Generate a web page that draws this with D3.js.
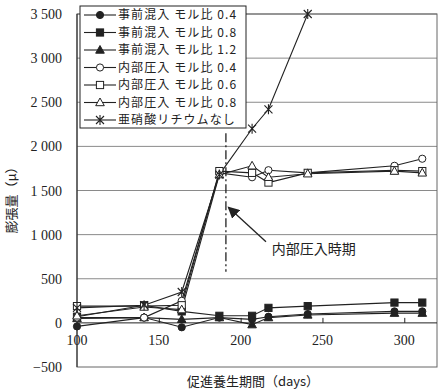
<!DOCTYPE html>
<html><head><meta charset="utf-8">
<script src="https://cdn.jsdelivr.net/npm/d3@7/dist/d3.min.js"></script>
<style>body{margin:0;background:#fff}svg{display:block}</style>
</head><body>
<svg id="c" width="440" height="392"></svg>
<script>
// ---- data ----
const days = [100, 141, 164, 187, 207, 217, 241, 294, 311];
const seriesNames = ["事前混入 モル比 0.4","事前混入 モル比 0.8","事前混入 モル比 1.2","内部圧入 モル比 0.4","内部圧入 モル比 0.6","内部圧入 モル比 0.8","亜硝酸リチウムなし"];
const pre04 = [-40, 60, -50, 60, 40, 70, 100, 130, 130];
const pre08 = [70, 200, 130, 80, 80, 170, 190, 230, 230];
const pre12 = [50, 60, 40, 60, -20, 60, 90, 110, 110];
const int04 = [60, 60, 250, 1700, 1650, 1730, 1700, 1780, 1860];
const int06 = [190, 190, 200, 1720, 1700, 1590, 1700, 1730, 1720];
const int08 = [80, 180, 150, 1680, 1780, 1650, 1690, 1720, 1700];
const noneDays = [100, 141, 164, 187, 207, 217, 241];
const none = [170, 200, 350, 1680, 2200, 2420, 3500];
const xTicks = [100, 150, 200, 250, 300];
const yTicks = [-500, 0, 500, 1000, 1500, 2000, 2500, 3000, 3500];
const injectDay = 191;

const seriesData = [
  {name: seriesNames[0], x: days, y: pre04, m: "circle", filled: true},
  {name: seriesNames[1], x: days, y: pre08, m: "square", filled: true},
  {name: seriesNames[2], x: days, y: pre12, m: "triangle", filled: true},
  {name: seriesNames[3], x: days, y: int04, m: "circle", filled: false},
  {name: seriesNames[4], x: days, y: int06, m: "square", filled: false},
  {name: seriesNames[5], x: days, y: int08, m: "triangle", filled: false},
  {name: seriesNames[6], x: noneDays, y: none, m: "star", filled: false}
];

const svg = d3.select("#c");
const x = d3.scaleLinear().domain([100, 320]).range([77, 437]);
const y = d3.scaleLinear().domain([-500, 3500]).range([367, 14]);
const loc = d3.formatLocale({decimal: ".", thousands: " ", grouping: [3], currency: ["", ""], minus: "\u2212"});
const fmt = loc.format(",");
const serif = "'Liberation Serif','Noto Sans CJK JP',serif";
const cjk = "'Noto Sans CJK JP','Liberation Serif',sans-serif";
const ink = "#222";

// grid
svg.append("g").selectAll("line").data(yTicks.filter(v => v > -500 && v !== 0)).join("line")
  .attr("x1", x(100)).attr("x2", x(320)).attr("y1", d => y(d)).attr("y2", d => y(d))
  .attr("stroke", "#8a8a8a").attr("stroke-width", 1);
// frame
svg.append("rect").attr("x", x(100)).attr("y", y(3500)).attr("width", x(320) - x(100)).attr("height", y(-500) - y(3500))
  .attr("fill", "none").attr("stroke", "#666").attr("stroke-width", 1);
svg.append("line").attr("x1", x(100)).attr("x2", x(100)).attr("y1", y(3500)).attr("y2", y(-500)).attr("stroke", ink);
// x axis at 0
const xAxis = d3.axisTop(x).tickValues(xTicks.slice(1)).tickSize(5).tickFormat("");
const gx = svg.append("g").attr("transform", `translate(0,${y(0)})`).call(xAxis);
gx.select(".domain").attr("stroke", ink).attr("d", `M${x(100)},0H${x(320)}`);
gx.selectAll(".tick line").attr("stroke", ink);
// x tick labels
svg.append("g").selectAll("text").data(xTicks).join("text")
  .attr("x", d => x(d)).attr("y", y(0) + 22).attr("text-anchor", "middle")
  .attr("font-family", serif).attr("font-size", 14).attr("fill", ink).text(d => d);
// y tick labels
svg.append("g").selectAll("text").data(yTicks).join("text")
  .attr("x", 62).attr("y", d => y(d) + 5).attr("text-anchor", "end")
  .attr("font-family", serif).attr("font-size", 14).attr("fill", ink).text(d => fmt(d));

// titles
svg.append("text").attr("x", 253).attr("y", 386).attr("text-anchor", "middle")
  .attr("font-family", cjk).attr("font-size", 13).attr("fill", ink).text("促進養生期間（days）");
svg.append("text").attr("transform", "translate(16,197) rotate(-90)").attr("text-anchor", "middle")
  .attr("font-family", cjk).attr("font-size", 13).attr("fill", ink).text("膨張量（μ）");

// marker
function marker(g, m, filled) {
  const fill = filled ? ink : "#fff";
  if (m === "circle") g.append("circle").attr("r", 3.6).attr("fill", fill).attr("stroke", ink).attr("stroke-width", 1);
  else if (m === "square") g.append("rect").attr("x", -3.6).attr("y", -3.6).attr("width", 7.2).attr("height", 7.2).attr("fill", fill).attr("stroke", ink).attr("stroke-width", 1);
  else if (m === "triangle") g.append("path").attr("d", "M0,-4.5L4.3,3.2L-4.3,3.2Z").attr("fill", fill).attr("stroke", ink).attr("stroke-width", 1);
  else g.append("path").attr("d", "M-4,-4L4,4M-4,4L4,-4M0,-5V5").attr("fill", "none").attr("stroke", ink).attr("stroke-width", 1.1);
}

// dash-dot injection line
svg.append("line").attr("x1", x(injectDay)).attr("x2", x(injectDay)).attr("y1", y(2150)).attr("y2", y(580))
  .attr("stroke", ink).attr("stroke-width", 1.3).attr("stroke-dasharray", "9,3,2,3");

// series
const line = d3.line().x(d => x(d[0])).y(d => y(d[1]));
seriesData.forEach(s => {
  const pts = s.x.map((d, i) => [d, s.y[i]]);
  svg.append("path").datum(pts).attr("d", line).attr("fill", "none").attr("stroke", ink).attr("stroke-width", 1.1);
});
seriesData.forEach(s => {
  s.x.forEach((d, i) => {
    const g = svg.append("g").attr("transform", `translate(${x(d)},${y(s.y[i])})`);
    marker(g, s.m, s.filled);
  });
});

// annotation
svg.append("defs").append("marker").attr("id", "ah").attr("viewBox", "0 0 10 10").attr("refX", 9).attr("refY", 5)
  .attr("markerWidth", 9).attr("markerHeight", 9).attr("orient", "auto")
  .append("path").attr("d", "M0,0L10,5L0,10Z").attr("fill", ink);
svg.append("line").attr("x1", x(215.5)).attr("y1", y(920)).attr("x2", x(192.5)).attr("y2", y(1310))
  .attr("stroke", ink).attr("stroke-width", 1.3).attr("marker-end", "url(#ah)");
svg.append("text").attr("x", x(219)).attr("y", y(834) + 5).attr("font-family", cjk).attr("font-size", 14)
  .attr("fill", ink).text("内部圧入時期");

// legend
const lg = svg.append("g");
const rowH = 17.5, row0 = 15;
lg.append("rect").attr("x", 80).attr("y", 6).attr("width", 166).attr("height", 122)
  .attr("fill", "#fff").attr("stroke", ink).attr("stroke-width", 1);
seriesData.forEach((s, i) => {
  const cy = row0 + i * rowH;
  lg.append("line").attr("x1", 84).attr("x2", 116).attr("y1", cy).attr("y2", cy).attr("stroke", ink).attr("stroke-width", 1.1);
  marker(lg.append("g").attr("transform", `translate(100,${cy})`), s.m, s.filled);
  lg.append("text").attr("x", 118).attr("y", cy + 4.2).attr("font-family", cjk).attr("font-size", 12)
    .attr("letter-spacing", 1.1).attr("fill", ink).attr("xml:space", "preserve").text(s.name);
});
</script>
</body></html>
